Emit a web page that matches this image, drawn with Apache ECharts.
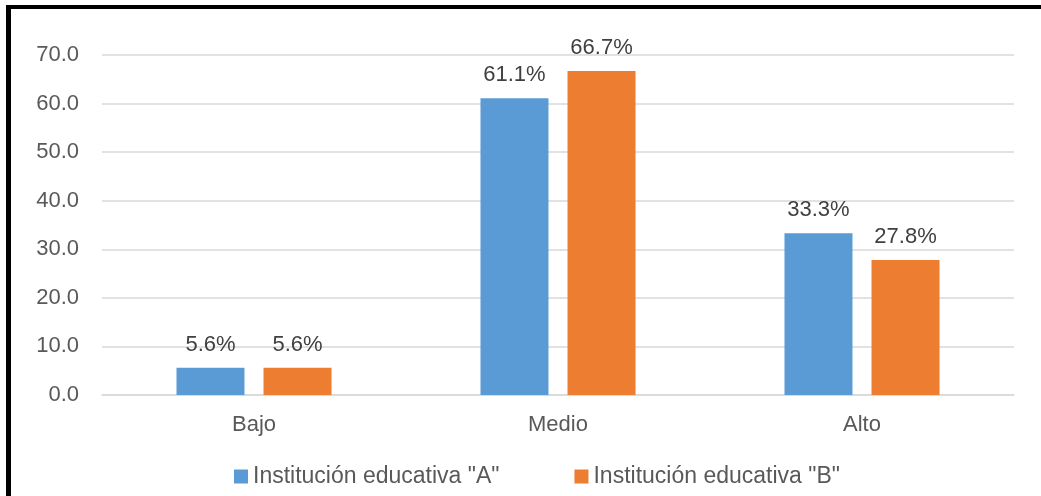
<!DOCTYPE html>
<html><head><meta charset="utf-8">
<script src="https://cdn.jsdelivr.net/npm/echarts@6/dist/echarts.min.js"></script>
<style>html,body{margin:0;padding:0;background:#fff}#c{width:1041px;height:496px}</style>
</head><body><div id="c"></div>
<script>
const categories = ['Bajo', 'Medio', 'Alto'];
const seriesNames = ['Institución educativa "A"', 'Institución educativa "B"'];
const valuesA = [5.6, 61.1, 33.3];
const valuesB = [5.6, 66.7, 27.8];
const yTicks = { min: 0, max: 70, interval: 10 };

const font = '"Liberation Sans", sans-serif';
const chart = echarts.init(document.getElementById('c'));
const labelCfg = { show: true, position: 'top', distance: 12, color: '#404040', fontSize: 22, fontFamily: font, formatter: p => p.value.toFixed(1) + '%' };
chart.setOption({
  animation: false,
  grid: { left: 102, right: 27, top: 55, bottom: 101 },
  graphic: [
    { type: 'rect', shape: { x: 6, y: 5, width: 1035, height: 4 }, style: { fill: '#000' } },
    { type: 'rect', shape: { x: 6, y: 5, width: 5, height: 491 }, style: { fill: '#000' } }
  ],
  legend: {
    bottom: 3, left: 229, itemWidth: 14, itemHeight: 14, itemGap: 75, icon: 'rect',
    textStyle: { color: '#595959', fontSize: 23, fontFamily: font },
    data: seriesNames
  },
  xAxis: {
    type: 'category', data: categories,
    axisLine: { lineStyle: { color: '#d9d9d9', width: 1.5 } },
    axisTick: { show: false },
    axisLabel: { color: '#595959', fontSize: 22, fontFamily: font, margin: 19 }
  },
  yAxis: {
    type: 'value', min: yTicks.min, max: yTicks.max, interval: yTicks.interval,
    axisLine: { show: false }, axisTick: { show: false },
    splitLine: { lineStyle: { color: '#d9d9d9', width: 1.5 } },
    axisLabel: { color: '#595959', fontSize: 22, fontFamily: font, margin: 23, formatter: v => v.toFixed(1) }
  },
  series: [
    { name: seriesNames[0], type: 'bar', data: valuesA, barWidth: 68, barGap: '28%', itemStyle: { color: '#5b9bd5' }, label: labelCfg },
    { name: seriesNames[1], type: 'bar', data: valuesB, barWidth: 68, itemStyle: { color: '#ed7d31' }, label: labelCfg }
  ]
});
</script></body></html>
